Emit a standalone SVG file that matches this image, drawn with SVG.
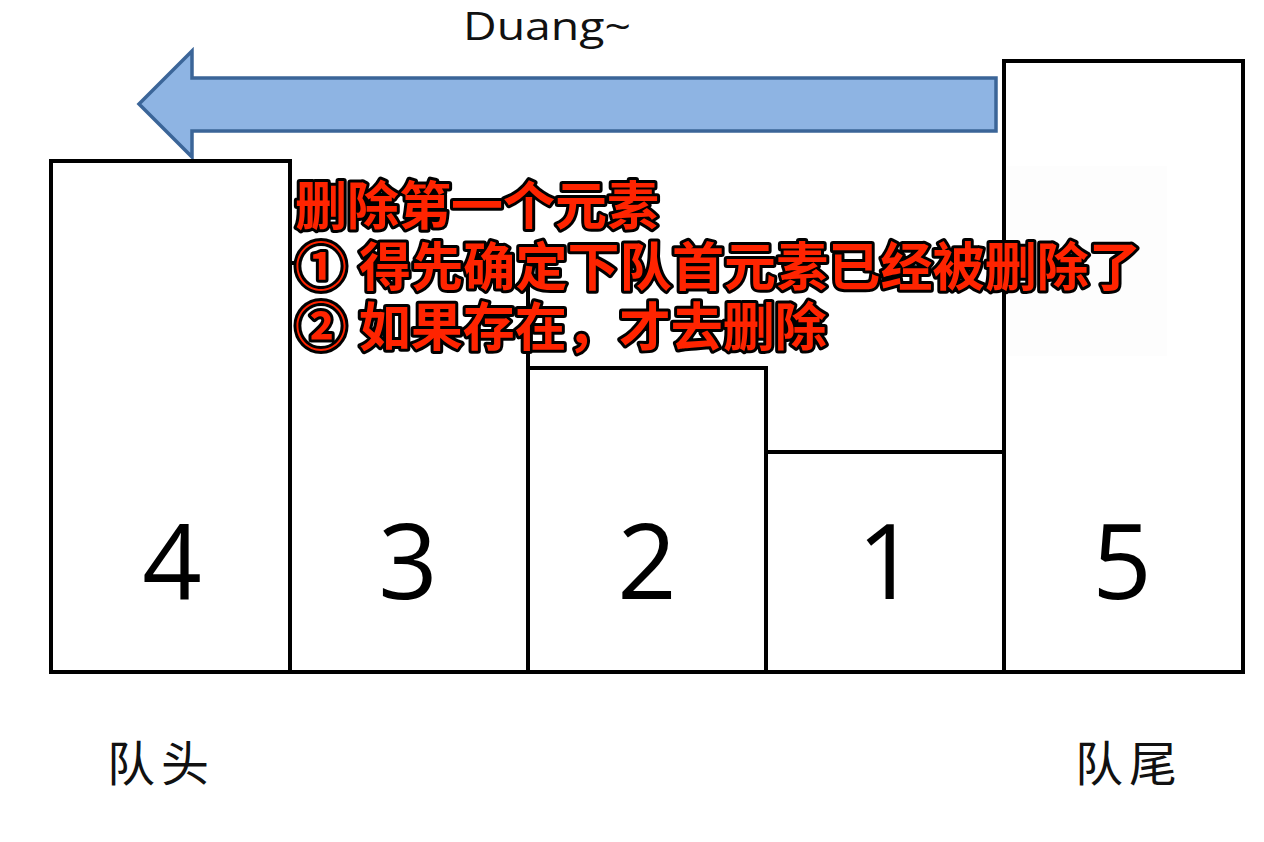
<svg xmlns="http://www.w3.org/2000/svg" width="1264" height="842" viewBox="0 0 1264 842">
<style>
.box{fill:#ffffff;stroke:#000000;stroke-width:4;stroke-linejoin:miter}
.num{font-family:"Open Sans","Liberation Sans",sans-serif;font-size:104px;fill:#000000;text-anchor:middle}
.lab{font-family:"Noto Sans CJK SC","Noto Sans CJK JP",serif;font-size:48px;fill:#111111;letter-spacing:6px}
.red{font-family:"Noto Sans CJK SC","Noto Sans CJK JP",sans-serif;font-size:52px;font-weight:bold;fill:#ff2400;stroke:#000000;stroke-width:6;stroke-linejoin:round;paint-order:stroke fill}
</style>
<rect width="1264" height="842" fill="#ffffff"/>
<g id="arrow">
<path d="M996,78 L192,78 L192,51 L139,104 L192,157 L192,131 L996,131 Z" fill="#8eb4e3" stroke="#3b6598" stroke-width="3.5" stroke-linejoin="miter"/>
<text x="463" y="40" font-family="Open Sans,Liberation Sans,sans-serif" font-size="38" fill="#111111" textLength="168" lengthAdjust="spacingAndGlyphs">Duang~</text>
</g>
<g id="node-4">
<rect class="box" x="51" y="161" width="239" height="511"/>
<text class="num" x="172" y="599">4</text>
</g>
<g id="node-3">
<rect class="box" x="290" y="263" width="238" height="409"/>
<text class="num" x="408" y="599">3</text>
</g>
<g id="node-2">
<rect class="box" x="528" y="368" width="238" height="304"/>
<text class="num" x="647" y="599">2</text>
</g>
<g id="node-1">
<rect class="box" x="766" y="452" width="238" height="220"/>
<text class="num" x="887" y="599">1</text>
</g>
<g id="node-5">
<rect class="box" x="1004" y="61" width="239" height="611"/>
<text class="num" x="1122" y="599">5</text>
</g>
<g id="note">
<rect x="298" y="166" width="703" height="120" fill="#ffffff"/>
<rect x="1007" y="166" width="160" height="190" fill="#fdfdfd"/>
<text class="red" x="295" y="225">删除第一个元素</text>
<text class="red" x="295" y="286" textLength="846" lengthAdjust="spacing">① 得先确定下队首元素已经被删除了</text>
<text class="red" x="295" y="346">② 如果存在，才去删除</text>
</g>
<g id="labels">
<text class="lab" x="107" y="781">队头</text>
<text class="lab" x="1075" y="781">队尾</text>
</g>
</svg>
